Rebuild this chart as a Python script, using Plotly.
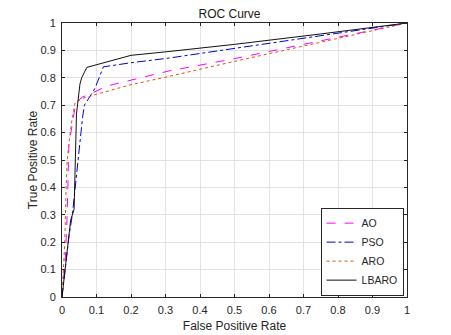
import plotly.graph_objects as go

# ROC curve points
ao_fpr = [0, 0.01, 0.015, 0.018, 0.02, 0.03, 0.04, 0.06, 0.08, 0.13, 0.31, 0.5, 1]
ao_tpr = [0, 0.15, 0.3, 0.45, 0.56, 0.63, 0.71, 0.73, 0.74, 0.77, 0.825, 0.87, 1]

pso_fpr = [0, 0.02, 0.03, 0.04, 0.055, 0.06, 0.065, 0.08, 0.095, 0.12, 0.2, 0.31, 0.5, 1]
pso_tpr = [0, 0.22, 0.3, 0.43, 0.6, 0.66, 0.7, 0.73, 0.76, 0.84, 0.855, 0.872, 0.907, 1]

aro_fpr = [0, 0.008, 0.012, 0.015, 0.02, 0.028, 0.038, 0.06, 0.1, 0.2, 0.31, 0.5, 1]
aro_tpr = [0, 0.2, 0.4, 0.5, 0.56, 0.64, 0.71, 0.725, 0.74, 0.775, 0.805, 0.86, 1]

lbaro_fpr = [0, 0.01, 0.025, 0.035, 0.037, 0.042, 0.052, 0.057, 0.072, 0.2, 0.31, 0.5, 0.75, 1]
lbaro_tpr = [0, 0.12, 0.28, 0.32, 0.45, 0.668, 0.777, 0.8, 0.838, 0.882, 0.896, 0.922, 0.96, 1]

fig = go.Figure()
fig.add_trace(go.Scatter(x=ao_fpr, y=ao_tpr, mode="lines", name="AO",
                         line=dict(color="#ff00ff", width=1, dash="dash")))
fig.add_trace(go.Scatter(x=pso_fpr, y=pso_tpr, mode="lines", name="PSO",
                         line=dict(color="#0000dd", width=1, dash="dashdot")))
fig.add_trace(go.Scatter(x=aro_fpr, y=aro_tpr, mode="lines", name="ARO",
                         line=dict(color="#d95319", width=1, dash="dot")))
fig.add_trace(go.Scatter(x=lbaro_fpr, y=lbaro_tpr, mode="lines", name="LBARO",
                         line=dict(color="#111111", width=1)))

axis_style = dict(
    range=[0, 1], dtick=0.1, tick0=0,
    showgrid=True, gridcolor="#e3e3e3", gridwidth=1,
    showline=True, linecolor="#262626", linewidth=1, mirror="ticks",
    ticks="inside", ticklen=3, tickcolor="#262626",
    zeroline=False, automargin=False,
    tickfont=dict(size=11, color="#262626"),
)

# page body has an 8px margin, so the figure is a bit smaller than the window
fig.update_layout(
    width=443, height=327,
    margin=dict(l=54, r=44, t=15, b=38),
    paper_bgcolor="white", plot_bgcolor="white",
    font=dict(family="Liberation Sans, Arial", size=11, color="#262626"),
    title=dict(text="ROC Curve", x=0.5, xanchor="center", y=0.995, yanchor="top",
               font=dict(size=12, color="#1a1a1a")),
    xaxis=dict(axis_style, ticklabelstandoff=3,
               title=dict(text="False Positive Rate", standoff=6, font=dict(size=12))),
    yaxis=dict(axis_style, ticklabelstandoff=3,
               title=dict(text="True Positive Rate", standoff=0, font=dict(size=12))),
    legend=dict(x=0.99, y=0.005, xanchor="right", yanchor="bottom",
                bgcolor="white", bordercolor="#262626", borderwidth=1,
                font=dict(size=10.5), tracegroupgap=0, itemwidth=30),
    showlegend=True,
)

fig.write_html("out.html")
